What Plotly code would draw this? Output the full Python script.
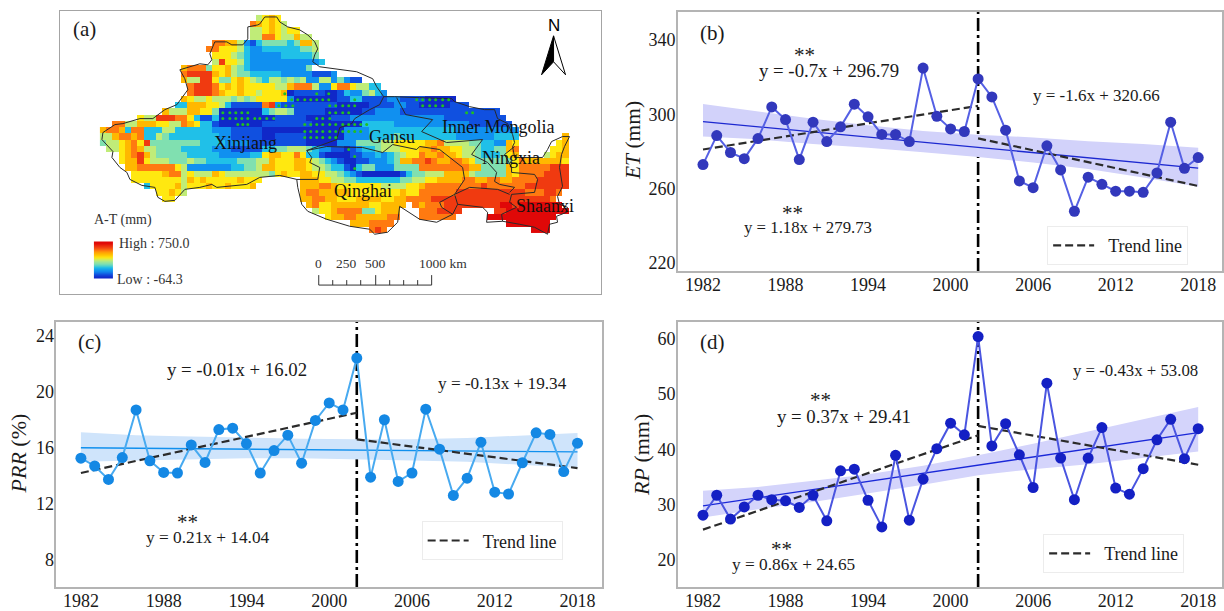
import plotly.graph_objects as go

W, H = 1224, 611
SERIF = "Liberation Serif"

YEARS = list(range(1982, 2019))
BAND_YEARS = [1982, 1986, 1990, 1994, 1998, 2002, 2006, 2010, 2014, 2018]
TICK_YEARS = [1982, 1988, 1994, 2000, 2006, 2012, 2018]
BREAK_YEAR = 2002

ET = [272.9, 288.5, 279.4, 276.1, 286.9, 303.9, 297.1, 275.6, 295.7, 285.3, 293.2, 305.4, 298.6,
      289.1, 289.1, 285.3, 324.8, 298.9, 292.1, 290.7, 319.0, 309.3, 291.4, 264.1, 260.5, 283.0,
      270.0, 247.8, 266.1, 262.3, 258.6, 258.6, 258.0, 268.4, 295.7, 270.9, 276.7]
ET_FIT = [296.0, 271.0]
ET_UP = [305.5, 301.5, 297.5, 294.0, 291.0, 289.0, 287.5, 285.5, 284.0, 282.0]
ET_LOW = [288.0, 286.5, 284.0, 282.0, 279.5, 277.0, 274.0, 270.5, 266.0, 261.0]
ET_PRE = [281.0, 304.5]
ET_POST = [287.0, 261.4]

PRR = [15.26, 14.7, 13.74, 15.3, 18.7, 15.07, 14.24, 14.2, 16.2, 14.95, 17.3, 17.4, 16.3, 14.2,
       15.8, 16.9, 14.9, 17.95, 19.2, 18.7, 22.4, 13.9, 18.0, 13.6, 14.2, 18.75, 15.9, 12.6,
       13.83, 16.4, 12.83, 12.7, 14.93, 17.07, 16.95, 14.3, 16.33]
PRR_FIT = [16.0, 15.7]
PRR_UP = [17.1, 16.9, 16.8, 16.7, 16.65, 16.6, 16.6, 16.7, 16.85, 17.05]
PRR_LOW = [15.0, 15.1, 15.2, 15.25, 15.25, 15.2, 15.1, 15.0, 14.8, 14.55]
PRR_PRE = [14.2, 18.5]
PRR_POST = [16.6, 14.55]

RP = [28.1, 31.7, 27.4, 29.6, 31.7, 30.9, 30.7, 29.5, 31.7, 27.1, 36.1, 36.4, 30.8, 26.0, 38.9,
      27.2, 34.6, 40.1, 44.7, 42.6, 60.3, 40.6, 44.6, 39.0, 33.1, 51.9, 38.4, 30.9, 38.4, 43.9,
      33.0, 31.9, 36.5, 41.7, 45.4, 38.3, 43.7]
RP_FIT = [29.8, 43.0]
RP_UP = [32.5, 33.2, 34.3, 35.5, 37.0, 38.9, 41.0, 43.2, 45.4, 47.6]
RP_LOW = [27.7, 29.2, 30.5, 32.0, 33.6, 35.3, 36.4, 37.3, 38.4, 39.6]
RP_PRE = [25.5, 42.5]
RP_POST = [44.2, 37.2]

# Map: class 0 (lowest A-T) ... 10 (highest, written "a"), one list of (first column, classes) per row
MAP_X0, MAP_Y0, MAP_CELL = 100.0, 15.0, 6.25
MAP_COLS = 76
MAP_ROWS = [
    [(25, "5676")],
    [(24, "876765")],
    [(24, "55676566")],
    [(24, "5588655755")],
    [(18, "88775213444434775")],
    [(17, "886665322333333445")],
    [(18, "66654322222333334")],
    [(18, "596653222222222223")],
    [(13, "788846675432222222224")],
    [(13, "8999976754433333222221112")],
    [(13, "75599644676543554545225524211")],
    [(14, "8999867676666655788852268865533")],
    [(14, "89998766766566670111110013224532")],
    [(13, "765565554545"), (25, "66666"), (30, "2"), (31, "0000000"), (38, "1133"), (42, "1111"), (46, "22"), (48, "1111"), (52, "00000")],
    [(12, "33777665311111"), (26, "892"), (29, "111111111"), (38, "00000"), (43, "1111"), (47, "22"), (49, "11"), (51, "00000"), (56, "111")],
    [(10, "755577664"), (19, "0000000"), (26, "34554"), (31, "11111"), (36, "000000"), (42, "112222"), (48, "1111111111111111")],
    [(6, "6559998863113"), (19, "000000000"), (28, "11111"), (33, "0000"), (37, "111"), (40, "222222222222222"), (55, "1111111111")],
    [(2, "88557776655876331"), (19, "0000000"), (26, "11111111"), (34, "00000000"), (42, "33333"), (47, "222222222222"), (59, "1111111")],
    [(0, "7887388333553333332221"), (22, "1111"), (26, "0000000"), (33, "000000"), (39, "2222"), (43, "3333"), (47, "3333333333"), (57, "2222"), (61, "222222")],
    [(0, "55788783354333333332211111"), (26, "0011111"), (33, "000000"), (39, "22223333"), (47, "4333333333"), (57, "2222223333"), (74, "7")],
    [(0, "455678694"), (9, "4444444"), (16, "3333"), (20, "22"), (22, "2211"), (26, "1111111"), (33, "00000"), (38, "222"), (41, "4444"), (45, "556"), (48, "6666"), (52, "77"), (54, "8"), (55, "555"), (58, "544"), (61, "3322"), (65, "76"), (73, "67")],
    [(1, "5567875"), (8, "5"), (9, "4444"), (13, "33333"), (18, "22211111"), (26, "33445"), (31, "554"), (34, "322"), (37, "11012"), (42, "334"), (45, "555666"), (51, "778"), (54, "7766"), (58, "554"), (61, "3344"), (65, "78"), (72, "667")],
    [(3, "678975"), (9, "44444"), (14, "3333"), (18, "32"), (20, "2222"), (24, "33"), (26, "6776686"), (33, "33"), (35, "100001"), (41, "122323"), (47, "45668"), (52, "778776"), (58, "554"), (61, "3334"), (65, "67"), (71, "5677")],
    [(3, "67796555"), (11, "44454433"), (19, "33344455"), (27, "7666776"), (34, "5432"), (38, "10011"), (43, "22234"), (48, "778"), (51, "8987788"), (58, "76"), (60, "444444"), (66, "6"), (67, "87777776")],
    [(4, "77888888"), (12, "65"), (14, "2222222"), (21, "3344"), (25, "5"), (26, "77666776"), (34, "55433"), (39, "1034"), (43, "4"), (44, "222"), (47, "4444"), (51, "88888888"), (59, "77"), (61, "4444"), (65, "76"), (67, "88888"), (72, "999")],
    [(5, "66666788"), (13, "56555"), (18, "76"), (20, "555555"), (26, "54676677"), (34, "6655432"), (41, "1000000"), (48, "1344"), (52, "555"), (55, "777"), (58, "754"), (61, "4444"), (65, "76"), (67, "88889"), (72, "999")],
    [(5, "666666665767666667666"), (32, "7"), (33, "776655"), (39, "443333333"), (48, "445"), (51, "5667777"), (58, "88778877"), (66, "8888"), (70, "99999")],
    [(7, "3666675"), (14, "66676676667"), (32, "777887"), (38, "6666666"), (45, "5555"), (49, "66"), (51, "7888888888"), (61, "9888888"), (68, "9999999")],
    [(9, "66765"), (32, "7887777"), (39, "7666666"), (46, "66"), (48, "7668"), (52, "88888"), (57, "99999999999"), (68, "888"), (71, "998")],
    [(10, "66"), (32, "778877"), (38, "666777"), (44, "7667"), (48, "7888"), (52, "8"), (53, "9999999999999999999"), (72, "8")],
    [(33, "786677"), (39, "7777"), (43, "66777"), (48, "7"), (50, "87"), (52, "888"), (55, "999999999"), (64, "aa9aaaaaaa")],
    [(34, "56678888"), (42, "44"), (44, "6777"), (51, "8889999"), (63, "99aaaaaaaaaa")],
    [(36, "677887777788"), (51, "888888"), (62, "aaaaaaaaaaa")],
    [(40, "7778888"), (65, "aaaaaaa")],
    [(43, "898"), (69, "aaa")],
]
CLASS_COLORS = ["#1028c8", "#1050e0", "#1090f0", "#20c0e8", "#80e0b0", "#c0ec78",
                "#ffe810", "#ffb800", "#ff7a10", "#f03a10", "#e00808"]

OUTER_X = [265, 277, 280, 288, 300, 308, 315, 318, 315, 313, 320, 337, 357, 373, 377, 384, 395, 420, 452, 455, 470, 485, 495, 498, 508, 513, 515, 513, 515, 543, 548, 552, 563, 570, 565, 562, 560, 563, 558, 560, 568, 567, 557, 558, 550, 548, 535, 520, 503, 487, 488, 483, 458, 453, 437, 420, 407, 400, 398, 388, 375, 370, 350, 327, 308, 302, 298, 297, 280, 260, 247, 217, 212, 200, 185, 175, 165, 158, 155, 142, 130, 127, 120, 112, 113, 102, 103, 115, 123, 140, 153, 165, 177, 183, 188, 185, 180, 200, 208, 212, 210, 215, 227, 232, 243, 248, 248, 258, 260, 265]
OUTER_Y = [17, 17, 22, 27, 30, 35, 42, 49, 55, 62, 67, 69, 72, 79, 87, 97, 97, 98, 99, 102, 107, 110, 110, 119, 124, 135, 143, 147, 158, 158, 150, 142, 137, 137, 147, 155, 168, 187, 197, 205, 208, 213, 217, 223, 225, 235, 228, 225, 222, 223, 213, 208, 205, 215, 223, 220, 212, 207, 223, 233, 235, 230, 227, 220, 212, 205, 188, 180, 176, 178, 185, 188, 185, 188, 190, 201, 202, 198, 188, 186, 180, 173, 168, 158, 152, 140, 133, 125, 124, 119, 119, 110, 105, 97, 90, 79, 70, 64, 65, 60, 54, 42, 42, 45, 45, 39, 27, 25, 24, 17]
INNER_X = [384, 380, 370, 355, 352, 340, 337, 318, 307, None,
           307, 312, 310, 320, 318, 297, None,
           307, 327, 357, 363, 383, 393, 417, 420, 440, 453, 463, 465, 455, 440, 442, 453, None,
           458, 455, 470, 498, 510, None,
           397, 406, 433, 422, 447, 483, 472, 488, 497, 495, 500, 515, 510, None,
           515, 505, 512, 512, 535, 538, 535, 512, 510, 517, 502, 503]
INNER_Y = [97, 105, 110, 119, 124, 128, 140, 147, 151, None,
           151, 158, 163, 168, 180, 180, None,
           151, 147, 148, 148, 153, 145, 150, 147, 150, 160, 168, 180, 195, 203, 208, 215, None,
           205, 195, 188, 190, 195, None,
           98, 115, 120, 132, 143, 140, 155, 163, 173, 182, 185, 188, 193, None,
           147, 155, 168, 173, 175, 180, 193, 195, 203, 208, 215, 222]

DOT_X = [285, 317, 329,
         292, 298, 305, 311, 317, 323, 329, 355, 417, 423, 430, 436, 443, 449,
         279, 286, 293, 330, 336, 343, 349, 355, 423, 430, 436, 443,
         223, 230, 236, 242, 248, 330, 336, 343, 349, 467, 473,
         223, 230, 236, 242, 248, 255, 260, 267, 274, 317, 323, 330,
         238, 243, 248, 305, 311, 317, 323, 330, 336, 343, 349, 355, 361, 367,
         305, 311, 317, 323, 330, 336, 343, 349, 355, 361,
         305, 311, 317, 323, 330, 336,
         349, 355, 355]
DOT_Y = [94, 94, 94,
         100, 100, 100, 100, 100, 100, 100, 100, 100, 100, 100, 100, 100, 100,
         106, 106, 106, 106, 106, 106, 106, 106, 106, 106, 106, 106,
         113, 113, 113, 113, 113, 113, 113, 113, 113, 113, 113,
         119, 119, 119, 119, 119, 119, 119, 119, 119, 119, 119, 119,
         125, 125, 125, 125, 125, 125, 125, 125, 125, 125, 125, 125, 125, 125,
         132, 132, 132, 132, 132, 132, 132, 132, 132, 132,
         138, 138, 138, 138, 138, 138,
         150, 157, 169]

PROVINCES = ["Xinjiang", "Gansu", "Inner Mongolia", "Ningxia", "Qinghai", "Shaanxi"]
PROVINCE_X = [246, 392, 498, 511, 363, 545]
PROVINCE_Y = [143, 137, 127, 159, 192, 207]

LEGEND_CLASSES = [10, 9, 8, 7, 6, 5, 4, 3, 2, 1, 0]
SCALE_TICKS = [319, 333, 347, 361, 376, 390, 404, 418, 432]


def px(x):
    return x / W


def py(y):
    return 1 - y / H


scale = [[i / 10, c] for i, c in enumerate(CLASS_COLORS)]
grid = []
for row in MAP_ROWS:
    cells = [None] * MAP_COLS
    for start, codes in row:
        for k, code in enumerate(codes):
            cells[start + k] = int(code, 16)
    grid.append(cells)

fig = go.Figure()

# panel (a)
fig.add_trace(go.Heatmap(z=grid, x0=MAP_X0 + MAP_CELL / 2, dx=MAP_CELL, y0=MAP_Y0 + MAP_CELL / 2, dy=MAP_CELL,
                         zmin=0, zmax=10, colorscale=scale, showscale=False, hoverinfo="skip",
                         xaxis="x4", yaxis="y4"))
fig.add_trace(go.Heatmap(z=[[c, c] for c in LEGEND_CLASSES], x=[98.75, 108.25], y0=244, dy=3.4, zsmooth="best",
                         zmin=0, zmax=10, colorscale=scale, showscale=False, hoverinfo="skip",
                         xaxis="x4", yaxis="y4"))
fig.add_trace(go.Scatter(x=OUTER_X, y=OUTER_Y, mode="lines", line=dict(color="#2a2a2a", width=1),
                         showlegend=False, hoverinfo="skip", xaxis="x4", yaxis="y4"))
fig.add_trace(go.Scatter(x=INNER_X, y=INNER_Y, mode="lines", line=dict(color="#2a2a2a", width=1),
                         showlegend=False, hoverinfo="skip", xaxis="x4", yaxis="y4"))
fig.add_trace(go.Scatter(x=DOT_X, y=DOT_Y, mode="markers", marker=dict(color="#20c020", size=3),
                         showlegend=False, hoverinfo="skip", xaxis="x4", yaxis="y4"))
fig.add_trace(go.Scatter(x=[542, 554, 554, 542], y=[75, 36, 62, 75], mode="lines", fill="toself", fillcolor="#000000",
                         line=dict(color="#000000", width=1), showlegend=False, hoverinfo="skip", xaxis="x4", yaxis="y4"))
fig.add_trace(go.Scatter(x=[566, 554, 554, 566], y=[75, 36, 62, 75], mode="lines", fill="toself", fillcolor="#ffffff",
                         line=dict(color="#000000", width=1), showlegend=False, hoverinfo="skip", xaxis="x4", yaxis="y4"))
bar_x, bar_y = [SCALE_TICKS[0], SCALE_TICKS[-1], None], [286, 286, None]
for i, t in enumerate(SCALE_TICKS):
    bar_x += [t, t, None]
    bar_y += [286, 276 if i % 4 == 0 else 281, None]
fig.add_trace(go.Scatter(x=bar_x, y=bar_y, mode="lines", line=dict(color="#333333", width=1),
                         showlegend=False, hoverinfo="skip", xaxis="x4", yaxis="y4"))


def panel(ax, vals, fit, up, low, pre, post, marker, line, solid, band, legend):
    xa, ya = ("x" + ax, "y" + ax) if ax != "1" else ("x", "y")
    fig.add_trace(go.Scatter(x=BAND_YEARS + BAND_YEARS[::-1], y=up + low[::-1], fill="toself", fillcolor=band,
                             mode="lines", line=dict(width=0), showlegend=False, hoverinfo="skip", xaxis=xa, yaxis=ya))
    fig.add_trace(go.Scatter(x=[YEARS[0], YEARS[-1]], y=fit, mode="lines", line=dict(color=solid, width=1.3),
                             showlegend=False, hoverinfo="skip", xaxis=xa, yaxis=ya))
    fig.add_trace(go.Scatter(x=[YEARS[0], BREAK_YEAR], y=pre, mode="lines", name="\u00a0\u00a0Trend line", legend=legend,
                             line=dict(color="#2b2b2b", width=2.2, dash="8px,4px"), hoverinfo="skip", xaxis=xa, yaxis=ya))
    fig.add_trace(go.Scatter(x=[BREAK_YEAR, YEARS[-1]], y=post, mode="lines", showlegend=False,
                             line=dict(color="#2b2b2b", width=2.2, dash="8px,4px"), hoverinfo="skip", xaxis=xa, yaxis=ya))
    fig.add_trace(go.Scatter(x=YEARS, y=vals, mode="lines+markers", showlegend=False, hoverinfo="skip",
                             line=dict(color=line, width=2), marker=dict(color=marker, size=11),
                             xaxis=xa, yaxis=ya))
    fig.add_shape(type="line", x0=BREAK_YEAR, x1=BREAK_YEAR, y0=0, y1=1, xref=xa, yref=ya + " domain", layer="below",
                  line=dict(color="#000000", width=2.6, dash="13px,4px,3px,4px"))


panel("1", ET, ET_FIT, ET_UP, ET_LOW, ET_PRE, ET_POST, "#3238bc", "#5560e4", "#1c28d0", "#d2d2fa", "legend")
panel("2", PRR, PRR_FIT, PRR_UP, PRR_LOW, PRR_PRE, PRR_POST, "#1488e4", "#48aaf0", "#1090ee", "#cfe4fb", "legend2")
panel("3", RP, RP_FIT, RP_UP, RP_LOW, RP_PRE, RP_POST, "#1420c4", "#4a55e0", "#1a28d8", "#d4d4fb", "legend3")


def xaxis(left, right, rng, **kw):
    return dict(domain=[px(left), px(right)], range=rng, tickvals=TICK_YEARS, ticks="", showgrid=False, zeroline=False,
                showline=True, mirror=True, linecolor="#b4b4b4", linewidth=1.5, ticklabelstandoff=-3,
                tickfont=dict(family=SERIF, size=18, color="#1a1a1a"), **kw)


def yaxis(top, bottom, rng, vals, anchor):
    return dict(domain=[py(bottom), py(top)], range=rng, tickvals=vals, ticks="", showgrid=False, zeroline=False,
                showline=True, mirror=True, linecolor="#b4b4b4", linewidth=1.5, anchor=anchor, ticklabelstandoff=-3,
                tickfont=dict(family=SERIF, size=18, color="#1a1a1a"))


def legend_box(left, top):
    return dict(x=px(left), y=py(top), xanchor="left", yanchor="top", bgcolor="#ffffff", bordercolor="#ececec",
                borderwidth=1, itemwidth=41, font=dict(family=SERIF, size=18, color="#1a1a1a"),
                itemclick=False, itemdoubleclick=False)


def note(text, x, y, size=18.8, angle=0, color="#1a1a1a", family=SERIF):
    return dict(text=text, x=px(x), y=py(y), xref="paper", yref="paper", showarrow=False, xanchor="center", yanchor="middle",
                textangle=angle, font=dict(family=family, size=size, color=color))


notes = [
    note("(a)", 85, 29, 21), note("(b)", 713, 33, 21), note("(c)", 90, 343, 21), note("(d)", 713, 343, 21),
    note("**", 805, 55, 21), note("y = -0.7x + 296.79", 830, 71), note("y = -1.6x + 320.66", 1097, 96, 17),
    note("**", 793, 214, 21), note("y = 1.18x + 279.73", 809, 228, 16.8),
    note("y = -0.01x + 16.02", 237, 371), note("y = -0.13x + 19.34", 503, 385, 17.2),
    note("**", 187.5, 524, 21), note("y = 0.21x + 14.04", 208, 539, 17.3),
    note("**", 821, 401, 21), note("y = 0.37x + 29.41", 845, 418), note("y = -0.43x + 53.08", 1136, 372, 16.8),
    note("**", 782, 551, 21), note("y = 0.86x + 24.65", 794, 566, 17.3),
    note("<i>ET</i> (mm)", 633, 141, 21.5, -90), note("<i>PRR</i> (%)", 19, 455, 22, -90), note("<i>RP</i> (mm)", 642, 456, 22, -90),
    note("N", 554, 26, 17, family="Liberation Sans", color="#000000"),
    note("A-T (mm)", 123, 221, 14, color="#333333"),
    note("High : 750.0", 154, 244, 14, color="#333333"), note("Low : -64.3", 150, 280, 14, color="#333333"),
    note("0", 319, 264, 13.5, color="#333333"), note("250", 347, 264, 13.5, color="#333333"),
    note("500", 376, 264, 13.5, color="#333333"), note("1000 km", 443, 264, 13.5, color="#333333"),
]
for name, x, y in zip(PROVINCES, PROVINCE_X, PROVINCE_Y):
    notes.append(note(name, x, y, 18, color="#111111"))

fig.update_layout(
    width=W, height=H, margin=dict(l=0, r=0, t=0, b=0), paper_bgcolor="#ffffff", plot_bgcolor="#ffffff",
    xaxis=xaxis(678.5, 1223, [1980.18, 2019.73], anchor="y"),
    yaxis=yaxis(12, 272, [215.6, 355], [220, 260, 300, 340], "x"),
    xaxis2=xaxis(56.4, 602, [1980.22, 2019.74], anchor="y2"),
    yaxis2=yaxis(322.7, 589, [6.06, 25], [8, 12, 16, 20, 24], "x2"),
    xaxis3=xaxis(678.5, 1223, [1980.18, 2019.73], anchor="y3"),
    yaxis3=yaxis(322.7, 589, [15.15, 63], [20, 30, 40, 50, 60], "x3"),
    xaxis4=dict(domain=[px(60), px(601)], range=[60, 601], visible=True, showticklabels=False, ticks="", showgrid=False,
                zeroline=False, showline=True, mirror=True, linecolor="#a4a4a4", linewidth=1.2, anchor="y4"),
    yaxis4=dict(domain=[py(295), py(11)], range=[295, 11], showticklabels=False, ticks="", showgrid=False,
                zeroline=False, showline=True, mirror=True, linecolor="#a4a4a4", linewidth=1.2, anchor="x4"),
    legend=legend_box(1048, 227), legend2=legend_box(422, 523), legend3=legend_box(1044, 536),
    annotations=notes,
)
fig.write_html("out.html", config={"displayModeBar": False},
               post_script="document.body.style.margin='0';document.body.style.overflow='hidden';")
